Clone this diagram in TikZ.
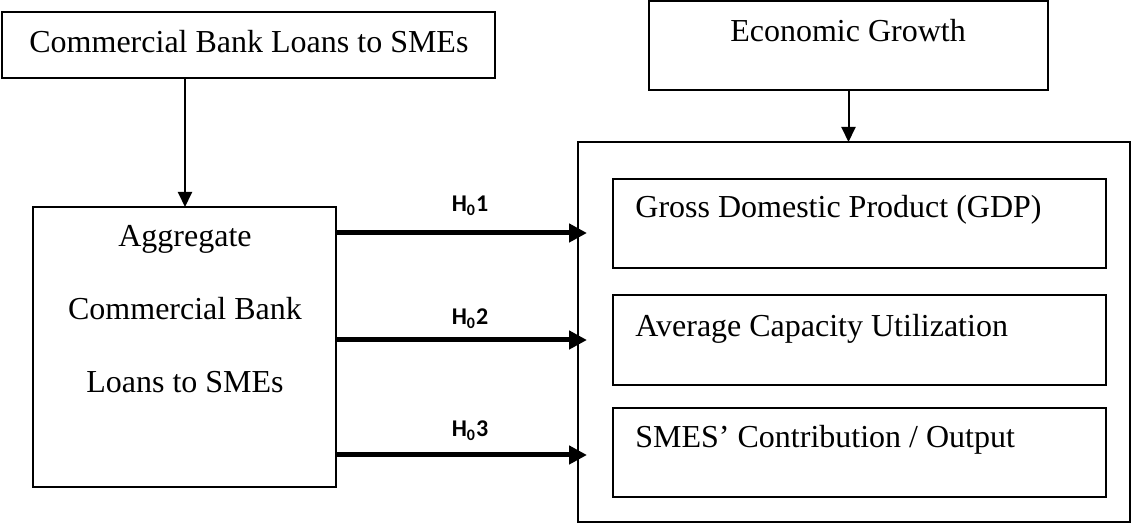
\documentclass[tikz,border=0pt]{standalone}
\usepackage{fontspec}
\setmainfont{Liberation Serif}
\newfontfamily\hfont{Carlito}
\usetikzlibrary{arrows.meta,fit}
\begin{document}
\begin{tikzpicture}[x=0.5pt,y=-0.5pt,
  box/.style={draw,line width=0.9pt,inner sep=0pt,outer sep=0pt},
  txt/.style={font=\fontsize{16}{19}\selectfont,inner sep=0pt},
  hlab/.style={font=\hfont\bfseries\fontsize{12}{14}\selectfont,inner sep=0pt,anchor=base},
  thinarrow/.style={line width=1pt,-{Triangle[length=7.5pt,width=7pt]}},
  thickarrow/.style={line width=2.5pt,-{Triangle[length=9pt,width=9pt]}}]
\useasboundingbox (0,0) rectangle (1132,523);
% boxes
\node[box,line width=1.3pt,fit={(2,12)(495,78)}] (tl) {};
\node[box,fit={(649,1)(1048,90)}] (eg) {};
\node[box,fit={(33,207)(336,487)}] (L) {};
\node[box,fit={(578,142)(1130,522)}] (R) {};
\node[box,fit={(613,179)(1106,268)}] (gdp) {};
\node[box,fit={(613,295)(1106,385)}] (acu) {};
\node[box,fit={(613,408)(1106,497)}] (sme) {};
% texts
\node[txt,anchor=base west] (tlt) at (29,53) {Commercial Bank Loans to SMEs};
\node[txt,anchor=base] (egt) at (848,42) {Economic Growth};
\node[txt,anchor=base] (l1) at (185,247) {Aggregate};
\node[txt,anchor=base] (l2) at (185,320) {Commercial Bank};
\node[txt,anchor=base] (l3) at (185,393) {Loans to SMEs};
\node[txt,anchor=base west] (gdpt) at (635,218) {Gross Domestic Product (GDP)};
\node[txt,anchor=base west] (acut) at (635,337) {Average Capacity Utilization};
\node[txt,anchor=base west] (smet) at (635,448) {SMES’ Contribution / Output};
% hypothesis labels
\node[hlab] (h1) at (470,212) {H\textsubscript{0}1};
\node[hlab] (h2) at (470,325) {H\textsubscript{0}2};
\node[hlab] (h3) at (470,437) {H\textsubscript{0}3};
% connectors
\coordinate (ax) at (185,0);
\coordinate (y1) at (0,233);
\coordinate (y2) at (0,340);
\coordinate (y3) at (0,455);
\draw[thinarrow] (tl.south -| ax) -- (L.north -| ax);
\draw[thinarrow] (eg.south) -- (eg.south |- R.north);
\draw[thickarrow,shorten >=-4.5pt] (L.east |- y1) -- (R.west |- y1);
\draw[thickarrow,shorten >=-4.5pt] (L.east |- y2) -- (R.west |- y2);
\draw[thickarrow,shorten >=-4.5pt] (L.east |- y3) -- (R.west |- y3);
\end{tikzpicture}
\end{document}
